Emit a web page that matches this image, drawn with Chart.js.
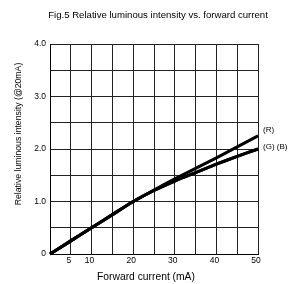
<!DOCTYPE html>
<html>
<head>
<meta charset="utf-8">
<script src="https://cdn.jsdelivr.net/npm/chart.js@4/dist/chart.umd.min.js"></script>
<style>
  body { margin: 0; background: #fff; }
</style>
</head>
<body>
<canvas id="myChart" width="288" height="284"></canvas>
<script>
const current = [0, 5, 10, 15, 20, 25, 30, 35, 40, 45, 50];
const red = [0, 0.25, 0.5, 0.75, 1.0, 1.22, 1.43, 1.63, 1.83, 2.04, 2.25];
const green = [0, 0.25, 0.5, 0.75, 1.0, 1.21, 1.39, 1.55, 1.71, 1.86, 2.0];
const blue = [0, 0.25, 0.5, 0.75, 1.0, 1.21, 1.39, 1.55, 1.71, 1.86, 2.0];
const xTickLabels = [5, 10, 20, 30, 40, 50];
const yTickLabels = [0, 1, 2, 3, 4];
const endLabels = ["(R)", "(G) (B)"];
const chartTitle = "Fig.5 Relative luminous intensity vs. forward current";
const xTitle = "Forward current (mA)";
const yTitle = "Relative luminous intensity (@20mA)";

const FONT = "'Liberation Sans', Arial, sans-serif";

const toPoints = (values) => values.map((v, i) => ({ x: current[i], y: v }));

const lineStyle = {
  borderColor: "#000",
  borderWidth: 3,
  pointRadius: 0,
  fill: false,
  tension: 0.2,
  clip: false,
};

// titles sit off-centre in the figure, so they are placed by hand here,
// plus the (R) / (G) (B) tags at the line ends
const textPlugin = {
  id: "figText",
  afterDraw(chart) {
    const { ctx, scales } = chart;
    ctx.save();
    ctx.fillStyle = "#000";
    ctx.textBaseline = "middle";
    ctx.textAlign = "center";

    ctx.font = "9.6px " + FONT;
    ctx.fillText(chartTitle, 158, 15);

    ctx.font = "10.3px " + FONT;
    ctx.fillText(xTitle, 146, 277);

    ctx.save();
    ctx.translate(19, 134);
    ctx.rotate(-Math.PI / 2);
    ctx.font = "8.7px " + FONT;
    ctx.fillText(yTitle, 0, 0);
    ctx.restore();

    const x = scales.x.getPixelForValue(current[current.length - 1]) + 5;
    ctx.font = "8px " + FONT;
    ctx.textAlign = "left";
    ctx.fillText(endLabels[0], x, scales.y.getPixelForValue(red[red.length - 1]) - 6);
    ctx.fillText(endLabels[1], x, scales.y.getPixelForValue(green[green.length - 1]) - 2);
    ctx.restore();
  },
};

const data = {
  datasets: [
    { label: "R", data: toPoints(red), ...lineStyle },
    { label: "G", data: toPoints(green), ...lineStyle },
    { label: "B", data: toPoints(blue), ...lineStyle },
  ],
};

const configChart = {
  type: "line",
  data: data,
  plugins: [textPlugin],
  options: {
    responsive: false,
    animation: false,
    devicePixelRatio: 1,
    layout: { padding: { left: 0, right: 30, top: 44, bottom: 0 } },
    plugins: {
      legend: { display: false },
      tooltip: { enabled: false },
      title: { display: false },
    },
    scales: {
      x: {
        type: "linear",
        min: 0,
        max: 50,
        afterFit: (scale) => { scale.height = 30; },
        ticks: {
          stepSize: 5,
          padding: 2,
          labelOffset: -2,
          color: "#000",
          font: { family: FONT, size: 8.5 },
          maxRotation: 0,
          autoSkip: false,
          callback: (v) => (xTickLabels.includes(v) ? String(v) : ""),
        },
        grid: { color: "#222", lineWidth: 1, drawTicks: false },
        border: { color: "#000", width: 1 },
      },
      y: {
        type: "linear",
        min: 0,
        max: 4,
        afterFit: (scale) => { scale.width = 50; },
        ticks: {
          stepSize: 0.5,
          padding: 4,
          color: "#000",
          font: { family: FONT, size: 8.5 },
          autoSkip: false,
          callback: (v) => {
            if (!yTickLabels.includes(v)) return "";
            return v === 0 ? "0" : v.toFixed(1);
          },
        },
        grid: { color: "#222", lineWidth: 1, drawTicks: false },
        border: { color: "#000", width: 1 },
      },
    },
  },
};

const myChart = new Chart(document.querySelector("#myChart"), configChart);
</script>
</body>
</html>
